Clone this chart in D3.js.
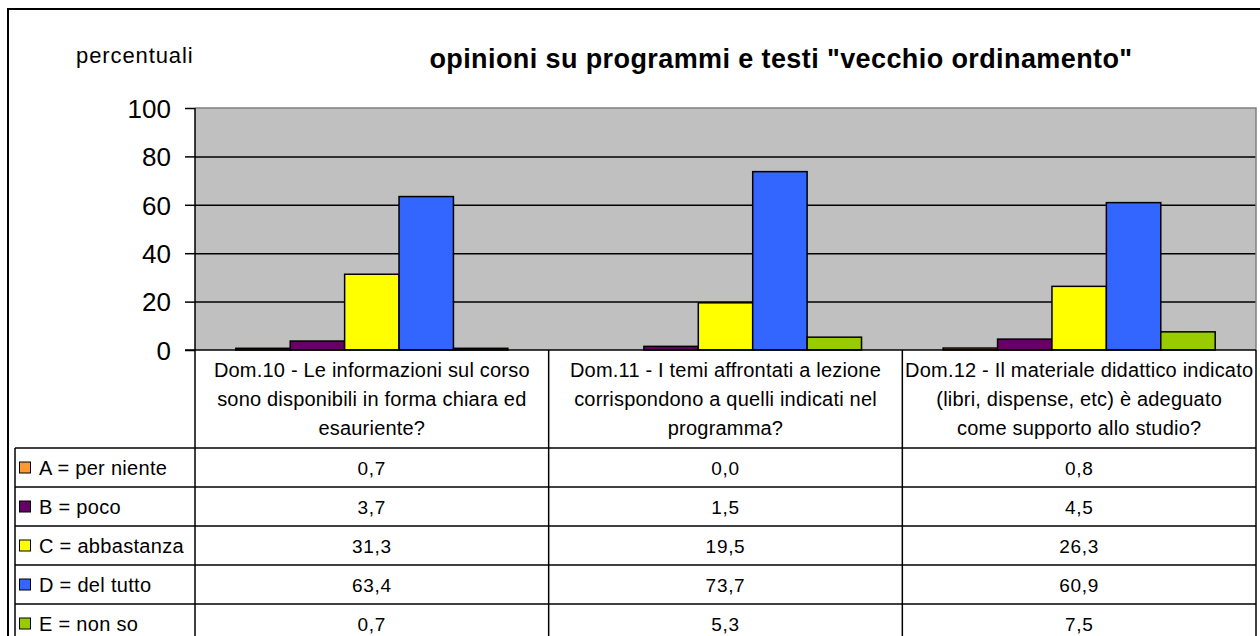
<!DOCTYPE html>
<html>
<head>
<meta charset="utf-8">
<script src="https://cdn.jsdelivr.net/npm/d3@7/dist/d3.min.js"></script>
<style>
  html, body { margin: 0; padding: 0; background: #fff; }
  svg { display: block; font-family: "Liberation Sans", Arial, sans-serif; }
</style>
</head>
<body>
<svg id="chart" width="1260" height="636"></svg>
<script>
// Questions (category labels, one entry per text line)
const categories = ["Dom.10", "Dom.11", "Dom.12"];
const categoryLines = [
  ["Dom.10 - Le informazioni sul corso", "sono disponibili in forma chiara ed", "esauriente?"],
  ["Dom.11 - I temi affrontati a lezione", "corrispondono a quelli indicati nel", "programma?"],
  ["Dom.12 - Il materiale didattico indicato", "(libri, dispense, etc) è adeguato", "come supporto allo studio?"]
];

// Answer series
const seriesNames = ["A = per niente", "B = poco", "C = abbastanza", "D = del tutto", "E = non so"];
const seriesColors = ["#FF9933", "#660066", "#FFFF00", "#3366FF", "#99CC00"];

// Percentages per series, one value per question
const valuesA = [0.7, 0.0, 0.8];
const valuesB = [3.7, 1.5, 4.5];
const valuesC = [31.3, 19.5, 26.3];
const valuesD = [63.4, 73.7, 60.9];
const valuesE = [0.7, 5.3, 7.5];
const seriesValues = [valuesA, valuesB, valuesC, valuesD, valuesE];

// Axis ticks
const yTicks = [0, 20, 40, 60, 80, 100];

const titleText = "opinioni su programmi e testi \"vecchio ordinamento\"";
const yAxisTitle = "percentuali";

// Layout
const plot = { left: 195, right: 1256, top: 108, bottom: 350 };
const labelRowBottom = 448;
const rowH = 39;
const legendLeft = 15;

const svg = d3.select("#chart");

// Outer frame
svg.append("rect")
  .attr("x", 8).attr("y", 9)
  .attr("width", 1262).attr("height", 640)
  .attr("fill", "#fff").attr("stroke", "#000").attr("stroke-width", 2);

const x = d3.scaleBand().domain(categories).range([plot.left, plot.right]).padding(0);
const bw = x.bandwidth();
const gapHalf = bw * 0.75 / 6.5;
const xs = d3.scaleBand().domain(seriesNames).range([gapHalf, bw - gapHalf]).padding(0);
const y = d3.scaleLinear().domain([0, 100]).range([plot.bottom, plot.top]);

// Plot area background
svg.append("rect")
  .attr("x", plot.left).attr("y", plot.top)
  .attr("width", plot.right - plot.left).attr("height", plot.bottom - plot.top)
  .attr("fill", "#C0C0C0");

// Gridlines
const grid = svg.append("g")
  .attr("transform", `translate(${plot.left},0)`)
  .call(d3.axisLeft(y).tickValues(yTicks.filter(t => t > 0 && t < 100))
    .tickSize(-(plot.right - plot.left)).tickFormat(""));
grid.select(".domain").remove();
grid.selectAll(".tick line").attr("stroke", "#000").attr("stroke-width", 1.5);

// Plot area top / right border
svg.append("path")
  .attr("d", `M${plot.left},${plot.top}H${plot.right}V${plot.bottom}`)
  .attr("fill", "none").attr("stroke", "#808080").attr("stroke-width", 1.5);

// Bars
const groups = svg.append("g").selectAll("g")
  .data(categories)
  .join("g")
  .attr("transform", d => `translate(${x(d)},0)`);

groups.selectAll("rect")
  .data((d, ci) => seriesNames.map((s, si) => ({ s, si, v: seriesValues[si][ci] })))
  .join("rect")
  .filter(d => d.v > 0)
  .attr("x", d => xs(d.s))
  .attr("y", d => y(d.v))
  .attr("width", xs.bandwidth())
  .attr("height", d => y(0) - y(d.v))
  .attr("fill", d => seriesColors[d.si])
  .attr("stroke", "#000").attr("stroke-width", 1.5);

// Y axis
const yAxis = svg.append("g")
  .attr("transform", `translate(${plot.left},0)`)
  .call(d3.axisLeft(y).tickValues(yTicks).tickSize(10).tickPadding(14));
yAxis.select(".domain").attr("stroke", "#000").attr("stroke-width", 1.5)
  .attr("d", `M0,${plot.top}V${plot.bottom}`);
yAxis.selectAll(".tick line").attr("stroke", "#000").attr("stroke-width", 1.5);
yAxis.selectAll(".tick text")
  .attr("fill", "#000")
  .style("font-size", "26px")
  .style("font-family", "'Liberation Sans', Arial, sans-serif")
  .attr("dy", "0.36em");

// Baseline of the plot (extends to the 0 tick)
svg.append("line")
  .attr("x1", plot.left - 10).attr("x2", plot.right)
  .attr("y1", y(0)).attr("y2", y(0))
  .attr("stroke", "#000").attr("stroke-width", 1.5);

// Titles
svg.append("text")
  .attr("x", 781).attr("y", 68)
  .attr("text-anchor", "middle")
  .style("font-size", "27px").style("font-weight", "bold")
  .style("letter-spacing", "0.4px")
  .text(titleText);

svg.append("text")
  .attr("x", 76).attr("y", 63)
  .style("font-size", "22px")
  .style("letter-spacing", "0.9px")
  .text(yAxisTitle);

// Data table
const table = svg.append("g");
const tableBottom = labelRowBottom + rowH * seriesNames.length;
const lineStyle = sel => sel.attr("stroke", "#000").attr("stroke-width", 1.5);

// Category label row
categories.forEach((c, ci) => {
  const cx = x(c) + bw / 2;
  table.append("text")
    .attr("text-anchor", "middle")
    .style("font-size", "20px")
    .style("letter-spacing", "0.2px")
    .selectAll("tspan")
    .data(categoryLines[ci])
    .join("tspan")
    .attr("x", cx)
    .attr("y", (d, i) => 377 + i * 29)
    .text(d => d);
});

// Value rows and legend keys
const fmt = v => d3.format(".1f")(v).replace(".", ",");
seriesNames.forEach((s, si) => {
  const top = labelRowBottom + si * rowH;
  const cy = top + rowH / 2;
  table.append("rect")
    .attr("x", 19.5).attr("y", cy - 5.5)
    .attr("width", 11).attr("height", 11)
    .attr("fill", seriesColors[si]).attr("stroke", "#000").attr("stroke-width", 1);
  table.append("text")
    .attr("x", 39).attr("y", cy + 7)
    .style("font-size", "20px")
    .style("letter-spacing", "0.3px")
    .text(s);
  categories.forEach((c, ci) => {
    table.append("text")
      .attr("x", x(c) + bw / 2).attr("y", cy + 7)
      .attr("text-anchor", "middle")
      .style("font-size", "19px")
      .style("letter-spacing", "0.7px")
      .text(fmt(seriesValues[si][ci]));
  });
});

// Grid of the table
d3.range(seriesNames.length + 1).forEach(i => {
  table.append("line")
    .attr("x1", legendLeft).attr("x2", plot.right)
    .attr("y1", labelRowBottom + i * rowH).attr("y2", labelRowBottom + i * rowH)
    .call(lineStyle);
});
[...categories.map(c => x(c)), plot.right].forEach(xv => {
  table.append("line")
    .attr("x1", xv).attr("x2", xv)
    .attr("y1", plot.bottom).attr("y2", tableBottom)
    .call(lineStyle);
});
table.append("line")
  .attr("x1", legendLeft).attr("x2", legendLeft)
  .attr("y1", labelRowBottom).attr("y2", tableBottom)
  .call(lineStyle);
</script>
</body>
</html>
